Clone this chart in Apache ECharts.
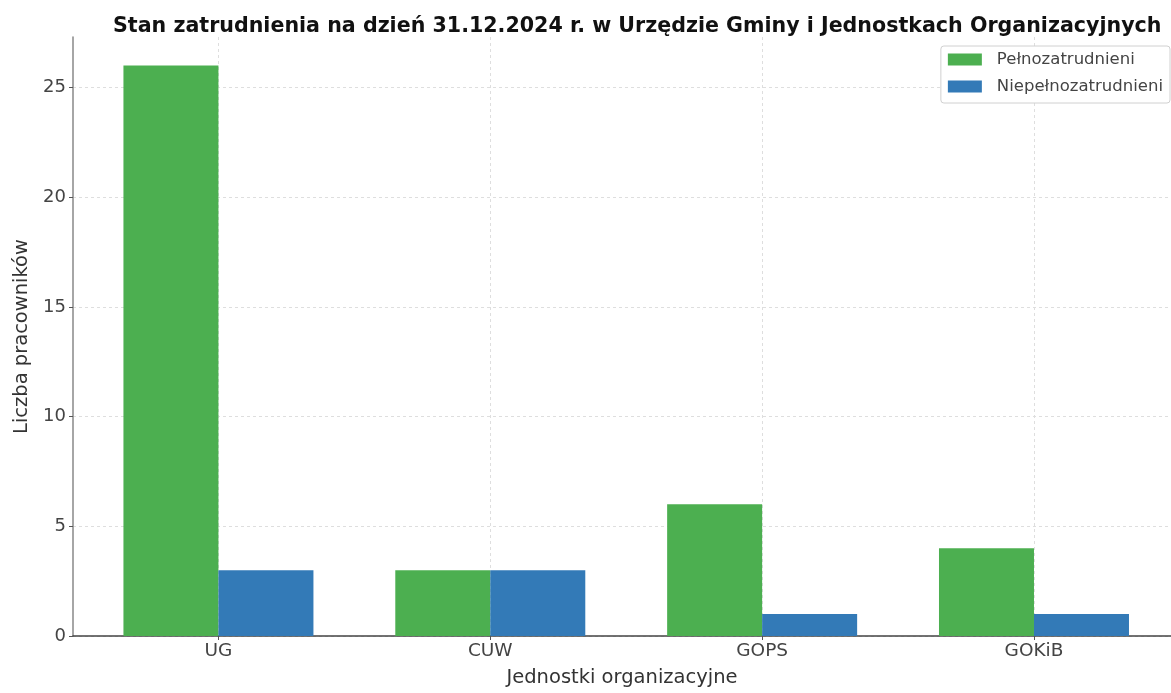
<!DOCTYPE html>
<html><head><meta charset="utf-8">
<script src="https://cdn.jsdelivr.net/npm/echarts@6/dist/echarts.min.js"></script>
<style>html,body{margin:0;padding:0;background:#fff}#c{width:1171px;height:693px}</style>
</head><body><div id="c"></div>
<script>
const categories = ['UG', 'CUW', 'GOPS', 'GOKiB'];
const fullTime = [26, 3, 6, 4];
const partTime = [3, 3, 1, 1];
const yTicks = [0, 5, 10, 15, 20, 25];
const seriesNames = ['Pełnozatrudnieni', 'Niepełnozatrudnieni'];
const titleText = 'Stan zatrudnienia na dzień 31.12.2024 r. w Urzędzie Gminy i Jednostkach Organizacyjnych';

const catIdx = categories.map((c, i) => i);
const chart = echarts.init(document.getElementById('c'), null, {renderer: 'canvas'});
const font = 'DejaVu Sans';
chart.setOption({
  animation: false,
  backgroundColor: '#fff',
  title: {
    text: titleText, left: 113, top: 16, padding: 0,
    textStyle: {fontFamily: 'DejaVu Sans', fontWeight: 'bold', fontSize: 20.6, color: '#111'}
  },
  legend: {
    orient: 'vertical', right: 1, top: 46,
    icon: 'rect', itemWidth: 34, itemHeight: 12, itemGap: 10,
    padding: [5, 7, 8, 7],
    borderColor: '#d0d0d0', borderWidth: 1, borderRadius: 3, backgroundColor: '#fff',
    textStyle: {fontFamily: font, fontSize: 16.5, color: '#444', lineHeight: 16, height: 16, padding: [0, 0, 0, 10]},
    data: seriesNames
  },
  grid: {left: 73, top: 37, right: 0, bottom: 48, containLabel: false},
  xAxis: {
    type: 'value', min: -0.535, max: 3.504,
    name: 'Jednostki organizacyjne', nameLocation: 'middle', nameGap: 32,
    nameTextStyle: {fontFamily: font, fontSize: 19.5, color: '#333'},
    axisLine: {show: true, lineStyle: {color: '#444', width: 1.5}},
    axisTick: {show: true, length: 4, customValues: catIdx, lineStyle: {color: '#555'}},
    axisLabel: {customValues: catIdx, fontFamily: font, fontSize: 18.5, color: '#444', margin: 6,
      formatter: v => categories[Math.round(v)] || ''},
    splitLine: {show: true, lineStyle: {color: '#dedede', type: [3, 3], width: 1}}
  },
  yAxis: {
    type: 'value', min: 0, max: 27.3,
    name: 'Liczba pracowników', nameLocation: 'middle', nameGap: 37,
    nameTextStyle: {fontFamily: font, fontSize: 19.5, color: '#333'},
    axisLine: {show: true, onZero: false, lineStyle: {color: '#888', width: 1.5}},
    axisTick: {show: true, length: 4, customValues: yTicks, lineStyle: {color: '#555'}},
    axisLabel: {customValues: yTicks, fontFamily: font, fontSize: 18, color: '#444', margin: 7},
    splitLine: {show: true, lineStyle: {color: '#dedede', type: [3, 3], width: 1}}
  },
  series: [
    {name: seriesNames[0], type: 'bar', barWidth: 95, barGap: '0%',
     itemStyle: {color: '#4caf50'}, data: fullTime.map((v, i) => [catIdx[i], v])},
    {name: seriesNames[1], type: 'bar', barWidth: 95, barGap: '0%',
     itemStyle: {color: '#337ab7'}, data: partTime.map((v, i) => [catIdx[i], v])}
  ]
});
</script></body></html>
